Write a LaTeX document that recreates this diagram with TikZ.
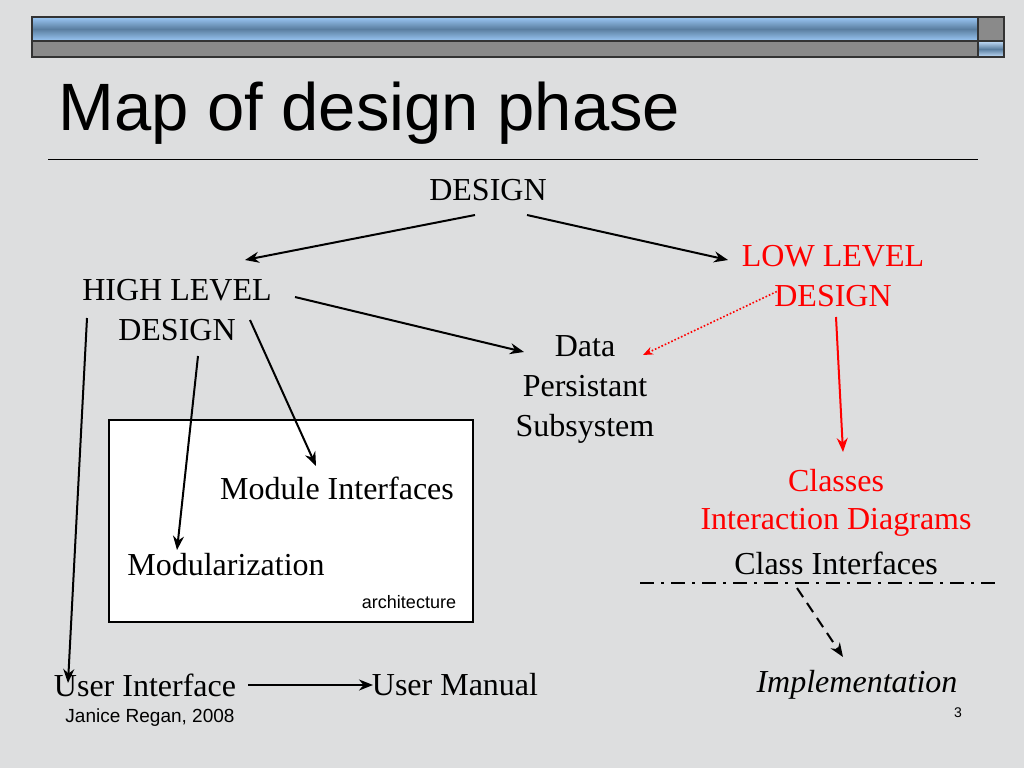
\documentclass[tikz,border=0pt]{standalone}
\usepackage{fontspec}
\setmainfont{Liberation Serif}
\setsansfont{Liberation Sans}
\usetikzlibrary{arrows.meta}
\definecolor{bg}{HTML}{DDDEDF}
\definecolor{barlight}{HTML}{9CC8F5}
\definecolor{bardark}{HTML}{5A7EA0}
\definecolor{bargray}{HTML}{8A8A8A}
\begin{document}
\begin{tikzpicture}[x=1pt,y=-1pt,
  txt/.style={font=\fontsize{32}{34}\selectfont, inner sep=0pt},
  red txt/.style={txt, text=red},
  arr/.style={-{Stealth[length=14pt,width=11pt]}, line width=2pt},
  rarr/.style={arr, red},
]
\fill[bg] (0,0) rectangle (1024,768);
\useasboundingbox (0,0) rectangle (1024,768);
% top bar
\shade[top color=barlight, bottom color=barlight, middle color=bardark] (32,17) rectangle (978,41);
\fill[bargray] (32,41) rectangle (978,57);
\fill[bargray] (978,17) rectangle (1004,41);
\shade[top color=barlight!60!white, bottom color=barlight!60!white, middle color=bardark] (978,41) rectangle (1004,57);
\draw[line width=1.2pt, black!80] (32,17) rectangle (1004,57) (32,41) -- (1004,41) (978,17) -- (978,57);
% title
\node[anchor=west, font=\sffamily\fontsize{67}{70}\selectfont, inner sep=0pt] (title) at (58,113) {Map of design phase};
\coordinate (l1) at (48,159); \coordinate (l2) at (978,159);
\draw[line width=1pt] (l1) -- (l2);
% box
\node[draw, line width=2pt, fill=white, minimum width=364pt, minimum height=202pt, anchor=north west] (box) at (108,419) {};
% texts
\node[txt] (design) at (488,190) {DESIGN};
\node[red txt, align=center] (low) at (833,276) {LOW LEVEL\\[6pt]DESIGN};
\node[txt, align=center] (high) at (177,310) {HIGH LEVEL\\[6pt]DESIGN};
\node[txt, align=center] (data) at (585,389) {Data\\[6pt]Persistant\\[6pt]Subsystem};
\node[txt] (mod) at (337,488) {Module Interfaces};
\node[txt] (modu) at (226,565) {Modularization};
\node[inner sep=0pt, font=\sffamily\fontsize{18}{20}\selectfont] (arch) at (409,602) {architecture};
\node[red txt] (classes) at (836,481) {Classes};
\node[red txt] (inter) at (836,522) {Interaction Diagrams};
\node[txt] (ci) at (836,563) {Class Interfaces};
\node[txt] (ui) at (145,685) {User Interface};
\node[txt] (um) at (455,685) {User Manual};
\node[txt, font=\itshape\fontsize{32}{34}\selectfont] (impl) at (857,685) {Implementation};
\node[inner sep=0pt, font=\sffamily\fontsize{19}{21}\selectfont] (foot) at (150,718) {Janice Regan, 2008};
\node[inner sep=0pt, font=\sffamily\fontsize{14}{16}\selectfont] (num) at (958,713) {3};
% connectors
\coordinate (d1) at (475,215); \coordinate (d2) at (245,260);
\coordinate (d3) at (527,215); \coordinate (d4) at (728,260);
\draw[arr] (d1) -- (d2);
\draw[arr] (d3) -- (d4);
\coordinate (h1) at (295,297); \coordinate (h2) at (524,352);
\draw[arr] (h1) -- (h2);
\coordinate (h3) at (87,318); \coordinate (h4) at (68,683);
\draw[arr] (h3) -- (h4);
\coordinate (h5) at (198,356); \coordinate (h6) at (177,550);
\draw[arr] (h5) -- (h6);
\coordinate (h7) at (250,320); \coordinate (h8) at (316,466);
\draw[arr] (h7) -- (h8);
\coordinate (r1) at (836,317); \coordinate (r2) at (843,452);
\draw[rarr] (r1) -- (r2);
\coordinate (r3) at (780,290); \coordinate (r4) at (643,355);
\draw[red, dotted, line width=1.6pt, -{Stealth[length=10pt,width=8pt]}] (r3) -- (r4);
\coordinate (s1) at (640,583); \coordinate (s2) at (995,583);
\draw[line width=2.4pt, dash pattern=on 14pt off 7pt on 3pt off 7pt] (s1) -- (s2);
\coordinate (k1) at (797,588); \coordinate (k2) at (843,657);
\draw[arr, dash pattern=on 11pt off 7pt] (k1) -- (k2);
\coordinate (u1) at (248,685); \coordinate (u2) at (373,685);
\draw[arr] (u1) -- (u2);
\end{tikzpicture}
\end{document}
